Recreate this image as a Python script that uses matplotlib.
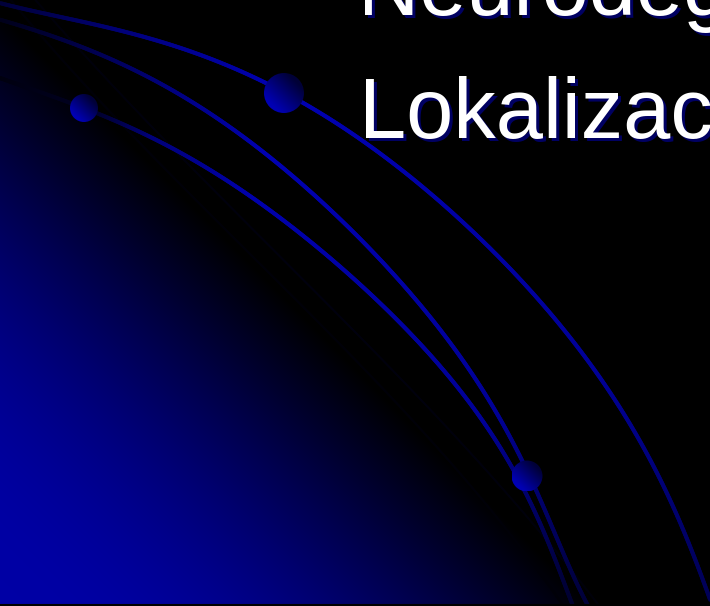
import numpy as np
import matplotlib
matplotlib.use("Agg")
import matplotlib.pyplot as plt
from matplotlib.collections import LineCollection
from matplotlib.patches import Circle

W, H = 710, 606

# ---- data (pixel coordinates, y downward) ----
title_lines = ["Neurodeg", "Lokalizac"]
title_x = [358, 359]
title_baseline = [15, 138]

curve_a = [(0, 3), (100, 26), (187, 50), (267, 83), (300, 102), (335, 120),
           (371, 150), (428, 190), (484, 243), (539, 300), (573, 340),
           (610, 392), (643, 450), (666, 490), (688, 540), (710, 600)]
curve_b = [(0, 20), (67, 40), (143, 77), (213, 113), (258, 150), (312, 190),
           (365, 245), (414, 300), (448, 340), (487, 393), (512, 440),
           (528, 476), (542, 505), (565, 555), (588, 606)]
curve_c = [(0, 78), (84, 108), (150, 137), (208, 170), (245, 190), (310, 243),
           (376, 300), (419, 340), (460, 392), (495, 440), (515, 472),
           (532, 505), (553, 555), (573, 606)]
curve_d1 = [(10, 0), (90, 88), (160, 165), (240, 245), (317, 318), (385, 395),
            (453, 465), (510, 530), (562, 606)]
curve_d2 = [(35, 0), (110, 80), (180, 160), (260, 235), (335, 310), (410, 390),
            (480, 462), (545, 540), (600, 606)]

spheres_xy = [(84, 108), (284, 93), (527, 476)]
spheres_r = [14, 20, 15.5]


def smooth(points, deg=6, n=600):
    p = np.array(points, dtype=float)
    L = np.r_[0, np.cumsum(np.hypot(*np.diff(p, axis=0).T))]
    t = L / L[-1]
    deg = min(deg, len(p) - 1)
    px = np.polyfit(t, p[:, 0], deg)
    py = np.polyfit(t, p[:, 1], deg)
    tt = np.linspace(0, 1, n)
    return np.column_stack([np.polyval(px, tt), np.polyval(py, tt)])


fig = plt.figure(figsize=(W / 100, H / 100), dpi=100)
fig.patch.set_facecolor("black")
ax = fig.add_axes([0, 0, 1, 1])
ax.set_xlim(0, W)
ax.set_ylim(H, 0)
ax.axis("off")

# background: diagonal gradient, bright blue in lower-left, black beyond the diagonal
yy, xx = np.mgrid[0:H, 0:W].astype(float)
h = (yy - xx - 12) / np.sqrt(2)
v = np.sin(np.pi / 2 * np.clip(h / 400.0, 0, 1))
img = np.zeros((H, W, 3))
img[..., 2] = v * 165 / 255
ax.imshow(img, extent=(0, W, H, 0), zorder=0, interpolation="bilinear")


def draw_curve(points, lw, prof_s, prof_b, z=2, deg=6):
    pts = smooth(points, deg)
    segs = np.stack([pts[:-1], pts[1:]], axis=1)
    L = np.r_[0, np.cumsum(np.hypot(*np.diff(pts, axis=0).T))]
    s = 0.5 * (L[:-1] + L[1:]) / L[-1]
    b = np.interp(s, prof_s, prof_b)
    cols = np.zeros((len(segs), 4))
    cols[:, 2] = b / 255
    cols[:, 3] = 1.0
    lc = LineCollection(segs, colors=cols, linewidths=lw, capstyle="round", zorder=z)
    ax.add_collection(lc)


draw_curve(curve_d1, 1.6, [0, 1], [8, 8], z=1, deg=3)
draw_curve(curve_d2, 1.4, [0, 0.5, 1], [10, 14, 10], z=1, deg=3)
draw_curve(curve_a, 2.9, [0, 0.15, 0.3, 0.75, 1], [55, 130, 178, 150, 85])
draw_curve(curve_b, 2.9, [0, 0.2, 0.35, 0.75, 1], [25, 120, 178, 150, 55])
draw_curve(curve_c, 2.9, [0, 0.12, 0.2, 0.35, 0.75, 1], [15, 35, 120, 172, 150, 45])

# spheres with shading (bright lower-left, dark upper-right)
for (cx, cy), r in zip(spheres_xy, spheres_r):
    gy, gx = np.mgrid[-1:1:64j, -1:1:64j]
    t = np.clip((gx - gy) / 2.4 + 0.5, 0, 1)
    simg = np.zeros((64, 64, 3))
    simg[..., 2] = (180 - 125 * t) / 255
    im = ax.imshow(simg, extent=(cx - r, cx + r, cy + r, cy - r), zorder=4,
                   interpolation="bilinear")
    im.set_clip_path(Circle((cx, cy), r, transform=ax.transData))

# title text with navy shadow
for txt, x, y in zip(title_lines, title_x, title_baseline):
    ax.text(x + 3, y + 3, txt, fontsize=61, family="Liberation Sans", color="#00006e",
            va="baseline", ha="left", zorder=5, alpha=0.9)
    ax.text(x, y, txt, fontsize=61, family="Liberation Sans", color="white",
            va="baseline", ha="left", zorder=6)

ax.axhline(H - 0.8, color="black", lw=1.5, zorder=7)

fig.savefig("out.png", dpi=100, facecolor="black")
